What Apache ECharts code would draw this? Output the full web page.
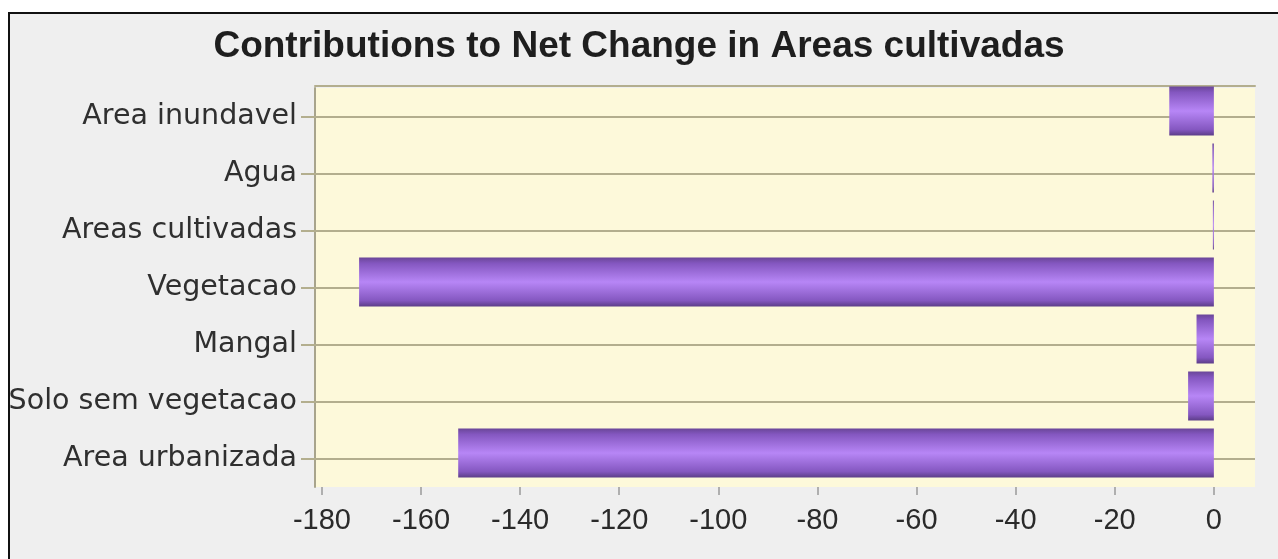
<!DOCTYPE html>
<html>
<head>
<meta charset="utf-8">
<script src="https://cdn.jsdelivr.net/npm/echarts@6/dist/echarts.min.js"></script>
<style>
  html, body { margin: 0; padding: 0; background: #ffffff; }
  #frame { position: absolute; left: 8px; top: 12px; width: 1280px; height: 560px;
           border-top: 2px solid #111; border-left: 2px solid #111; background: #efefef; }
  #chart { position: absolute; left: 0; top: 0; width: 1278px; height: 559px; }
</style>
</head>
<body>
<div id="frame"></div>
<div id="chart"></div>
<script>
const titleText = 'Contributions to Net Change in Areas cultivadas';
const categories = ['Area inundavel', 'Agua', 'Areas cultivadas', 'Vegetacao', 'Mangal', 'Solo sem vegetacao', 'Area urbanizada'];
const values = [-9.0, -0.3, -0.2, -172.5, -3.5, -5.2, -152.5];
const tickValues = [-180, -160, -140, -120, -100, -80, -60, -40, -20, 0];

const chart = echarts.init(document.getElementById('chart'), null, { renderer: 'canvas' });
const font = 'Liberation Sans, Arial, sans-serif';
const labelFont = 'DejaVu Sans, sans-serif';
const gridColor = '#b3ae8e';
const xMin = -181.4, xMax = 8.3;

chart.setOption({
  backgroundColor: 'transparent',
  animation: false,
  title: {
    text: titleText,
    left: 'center',
    top: 23,
    textStyle: { fontFamily: font, fontWeight: 'bold', fontSize: 37, color: '#1e1e1e' }
  },
  grid: [
    { left: 315, right: 23, top: 88, bottom: 72, show: true, backgroundColor: '#fdf9da', borderWidth: 0 },
    { left: 315, right: 23, top: 82.5, bottom: 77.5, show: false }
  ],
  xAxis: [{
    type: 'value', gridIndex: 0,
    min: xMin, max: xMax,
    position: 'bottom',
    axisLine: { show: false },
    axisTick: { show: true, length: 8, lineStyle: { color: '#9a9a9a', width: 1.5 }, customValues: tickValues },
    axisLabel: { fontFamily: font, fontSize: 29, color: '#2a2a2a', margin: 19, customValues: tickValues },
    splitLine: { show: false }
  }, {
    type: 'value', gridIndex: 0,
    min: xMin, max: xMax,
    position: 'top',
    offset: 2,
    axisLine: { show: true, onZero: false, lineStyle: { color: gridColor, width: 2 } },
    axisTick: { show: false },
    axisLabel: { show: false },
    splitLine: { show: false }
  }, {
    type: 'value', gridIndex: 1,
    min: xMin, max: xMax,
    show: false
  }],
  yAxis: [{
    type: 'category', gridIndex: 0,
    data: categories,
    inverse: true,
    axisLine: { show: true, onZero: false, lineStyle: { color: '#a8a48c', width: 2 } },
    axisTick: { show: true, alignWithLabel: true, length: 14, lineStyle: { color: gridColor, width: 2 } },
    axisLabel: { fontFamily: labelFont, fontSize: 28.5, color: '#2f2f2f', margin: 18 },
    splitLine: { show: false }
  }, {
    type: 'category', gridIndex: 1,
    data: categories,
    inverse: true,
    show: false
  }],
  series: [{
    type: 'bar',
    xAxisIndex: 0, yAxisIndex: 0,
    data: [],
    z: 1,
    markLine: {
      silent: true,
      symbol: 'none',
      z: 1,
      label: { show: false },
      lineStyle: { color: gridColor, width: 2, type: 'solid' },
      data: categories.map(c => ({ yAxis: c }))
    }
  }, {
    type: 'bar',
    xAxisIndex: 2, yAxisIndex: 1,
    data: values,
    barWidth: 49,
    itemStyle: {
      color: new echarts.graphic.LinearGradient(0, 0, 0, 1, [
        { offset: 0, color: '#6a4698' },
        { offset: 0.12, color: '#8457c0' },
        { offset: 0.5, color: '#b786f6' },
        { offset: 0.88, color: '#8457c0' },
        { offset: 1, color: '#5c3d88' }
      ])
    },
    z: 10
  }]
});
</script>
</body>
</html>
